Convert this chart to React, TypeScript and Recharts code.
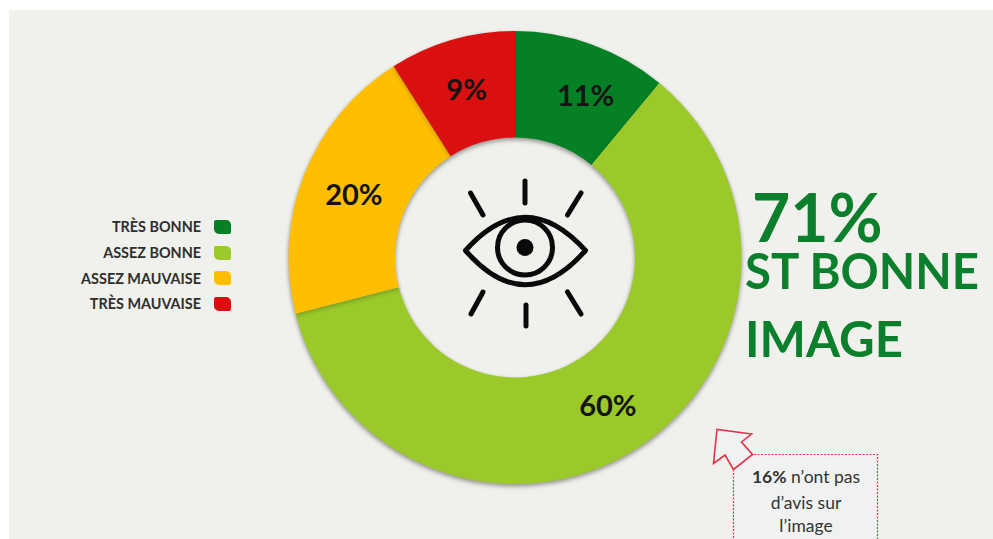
import React from 'react';
import { PieChart, Pie, Cell, Legend } from 'recharts';

const categories = ['TRÈS BONNE', 'ASSEZ BONNE', 'ASSEZ MAUVAISE', 'TRÈS MAUVAISE'];
const shares = [11, 60, 20, 9];
const sliceColors = ['#058024', '#9bc92a', '#ffbf00', '#da0f0f'];

const data = categories.map((name, i) => ({ name, value: shares[i] }));

const FONT = 'Lato, "Open Sans", sans-serif';
const GREEN_TEXT = '#0c7f2c';
const RED_LINE = '#e2334c';
const RAD = Math.PI / 180;

// small hand adjustments of the percentage labels, [dx, dy] per slice
const labelNudge = [[12, 0], [0, 1], [0, 0], [0, -3]];

function renderShare({ cx, cy, midAngle, innerRadius, outerRadius, value, index }: any) {
  const r = (innerRadius + outerRadius) / 2;
  const x = cx + r * Math.cos(-midAngle * RAD) + labelNudge[index][0];
  const y = cy + r * Math.sin(-midAngle * RAD) + labelNudge[index][1];
  return (
    <text
      x={x}
      y={y}
      textAnchor="middle"
      dominantBaseline="central"
      fontFamily={FONT}
      fontWeight={700}
      fontSize={29}
      fill="#141414"
    >
      {value}%
    </text>
  );
}

function renderLegend({ payload }: any) {
  return (
    <div style={{ fontFamily: FONT }}>
      {(payload || []).map((entry: any) => (
        <div
          key={entry.value}
          style={{
            display: 'flex',
            justifyContent: 'flex-end',
            alignItems: 'center',
            height: 25.7,
            fontSize: 14.4,
            fontWeight: 700,
            color: '#2e2e2e',
          }}
        >
          <span>{entry.value}</span>
          <span
            style={{
              display: 'inline-block',
              width: 17,
              height: 14,
              marginLeft: 13,
              background: entry.color,
              borderRadius: '2px 5px 2px 5px',
            }}
          />
        </div>
      ))}
    </div>
  );
}

function EyeIcon() {
  return (
    <g fill="none" stroke="#0a0a0a" strokeWidth={5} strokeLinecap="round">
      <path d="M525 181V203M526 305V326M470.5 193L483 215M581 193L567.5 215M483 292L471 314M567.5 292L581 314" />
      <path d="M465.5 250.5Q525 184 585.5 250.5Q525 319 465.5 250.5Z" strokeLinejoin="round" />
      <circle cx={525} cy={247.5} r={27.5} />
      <circle cx={525} cy={247.5} r={8.5} fill="#0a0a0a" stroke="none" />
    </g>
  );
}

function Callout() {
  return (
    <g>
      <path
        d="M733.5 469.5V548H877.5V454.5H752.5Z"
        fill="#f0f2f2"
        stroke={RED_LINE}
        strokeWidth={1.2}
        strokeDasharray="2 1.5"
      />
      <path
        d="M733.5 469.5L725 455L713.5 463.5L717 429.5L751.5 434L741.5 442L752.5 454.5Z"
        fill="#f0f2f2"
        stroke={RED_LINE}
        strokeWidth={1.6}
        strokeLinejoin="miter"
      />
      <g fontFamily={FONT} fontSize={17.5} fill="#333" textAnchor="middle">
        <text x={806} y={483}>
          <tspan fontWeight={700}>16%</tspan> n’ont pas
        </text>
        <text x={806} y={509}>d’avis sur</text>
        <text x={806} y={532}>l’image</text>
      </g>
    </g>
  );
}

export default function App() {
  return (
    <div style={{ position: 'absolute', left: 0, top: 0, width: 993, height: 539, background: '#fff', overflow: 'hidden' }}>
      {/* the shadow goes on the whole ring so it doesn't show along the slice seams */}
      <style>{'.donut-ring { filter: drop-shadow(0 2px 2px rgba(0,0,0,0.22)); }'}</style>
      <div style={{ position: 'absolute', left: 9, top: 10, right: 0, bottom: 0, background: '#f0f0ec' }} />
      <div style={{ position: 'absolute', left: 0, top: 0 }}>
        <PieChart width={993} height={539} margin={{ top: 0, right: 0, bottom: 0, left: 0 }}>
          <Legend
            content={renderLegend}
            layout="vertical"
            itemSorter={null}
            wrapperStyle={{ position: 'absolute', left: 40, top: 214, width: 191 }}
          />
          <Pie
            className="donut-ring"
            data={data}
            dataKey="value"
            nameKey="name"
            cx={515}
            cy={257.5}
            innerRadius={120}
            outerRadius={226.5}
            startAngle={90}
            endAngle={-270}
            stroke="none"
            label={renderShare}
            labelLine={false}
            isAnimationActive={false}
          >
            {data.map((d, i) => (
              <Cell key={d.name} fill={sliceColors[i]} />
            ))}
          </Pie>
        </PieChart>
      </div>
      <svg width={993} height={539} style={{ position: 'absolute', left: 0, top: 0 }}>
        <EyeIcon />
        <Callout />
        <g fontFamily={FONT} fontWeight={700} fill={GREEN_TEXT}>
          <text x={752} y={242} fontSize={66}>71%</text>
          <text x={745} y={289} fontSize={50} textLength={234} lengthAdjust="spacingAndGlyphs">ST BONNE</text>
          <text x={745} y={357} fontSize={50} textLength={158} lengthAdjust="spacingAndGlyphs">IMAGE</text>
        </g>
      </svg>
    </div>
  );
}
